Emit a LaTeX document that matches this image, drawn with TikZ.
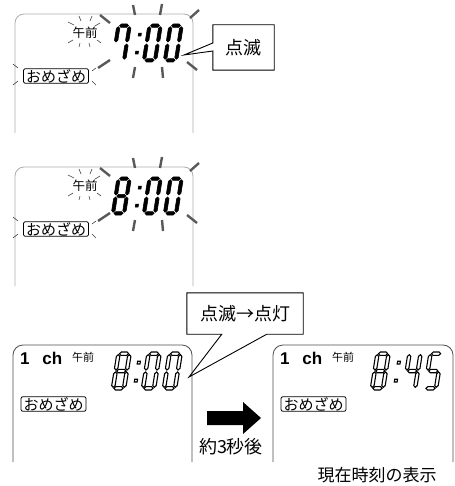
\documentclass[tikz,border=0pt]{standalone}
\usepackage{fontspec}
\setmainfont{Liberation Sans}
\newfontfamily\jp{Noto Sans CJK JP}
\usetikzlibrary{calc}
\tikzset{
  panelline/.style={draw=gray!65, line width=0.8pt, rounded corners=9pt},
  panellinec/.style={draw=black!70, line width=0.8pt, rounded corners=10pt},
  ray/.style={draw=black!65, line width=2.4pt},
  thinray/.style={draw=black!75, line width=0.6pt},
  biglabel/.style={font=\jp\fontsize{18}{18}\selectfont, inner sep=0pt},
  caption/.style={font=\jp\fontsize{17}{17}\selectfont, inner sep=0pt},
  amlabel/.style={font=\jp\fontsize{12.5}{12.5}\selectfont, inner sep=0pt},
  amsmall/.style={font=\jp\fontsize{11}{11}\selectfont, inner sep=0pt},
  chlabel/.style={font=\bfseries\fontsize{17}{17}\selectfont, inner sep=0pt},
  omebox/.style={draw, rounded corners=2pt, line width=0.8pt, font=\jp\fontsize{15}{15}\selectfont, inner xsep=2.5pt, inner ysep=0.5pt},
  calloutline/.style={draw=black, line width=0.9pt},
  segshape/.style={fill=black, draw=black, line width=0.6pt},
  segoutline/.style={segshape/.style={fill=white, draw=black, line width=1.1pt}},
}
\def\dw{14.5}
\def\dh{38}
\def\segh{1.7}
\newcommand\hseg[3]{\path[segshape] ({#2},{#1}) -- ({#2+\segh},{#1+\segh}) -- ({#3-\segh},{#1+\segh}) -- ({#3},{#1}) -- ({#3-\segh},{#1-\segh}) -- ({#2+\segh},{#1-\segh}) -- cycle;}
\newcommand\vseg[3]{\path[segshape] ({#1},{#2}) -- ({#1+\segh},{#2+\segh}) -- ({#1+\segh},{#3-\segh}) -- ({#1},{#3}) -- ({#1-\segh},{#3-\segh}) -- ({#1-\segh},{#2+\segh}) -- cycle;}
\newcommand\segA{\hseg{\dh-\segh}{2.7}{\dw-2.7}}
\newcommand\segD{\hseg{\segh}{2.7}{\dw-2.7}}
\newcommand\segG{\hseg{\dh/2}{2.7}{\dw-2.7}}
\newcommand\segF{\vseg{\segh}{\dh/2+1}{\dh-2.7}}
\newcommand\segE{\vseg{\segh}{2.7}{\dh/2-1}}
\newcommand\segB{\vseg{\dw-\segh}{\dh/2+1}{\dh-2.7}}
\newcommand\segC{\vseg{\dw-\segh}{2.7}{\dh/2-1}}
\newcommand\colondots{\path[segshape] (0,8) rectangle (2.8,10.8); \path[segshape] (0,26) rectangle (2.8,28.8);}
\newcommand\digit[3]{\begin{scope}[shift={(#1,#2)}, xslant=0.16, yscale=-1]#3\end{scope}}
\newcommand\dEight{\segA\segB\segC\segD\segE\segF\segG}
\newcommand\dZero{\segA\segB\segC\segD\segE\segF}
\newcommand\dSeven{\segA\segB\segC\segF}
\newcommand\dFour{\segB\segC\segF\segG}
\newcommand\dFive{\segA\segC\segD\segF\segG}
\newcommand\blinkrays{%
  \draw[ray] (100,15) -- (110,23);
  \draw[ray] (133,5) -- (135,15);
  \draw[ray] (162,4) -- (160,15);
  \draw[ray] (199,10) -- (190,18);
  \draw[ray] (110,60) -- (98,68);
  \draw[ray] (135,67) -- (133,78);
  \draw[ray] (162,67) -- (163,78);
  \draw[ray] (187,62) -- (197,70);
  \draw[thinray] (68,22) -- (74,25);
  \draw[thinray] (79,16) -- (81,21);
  \draw[thinray] (92,16) -- (90,21);
  \draw[thinray] (100,23) -- (95,26);
  \draw[thinray] (68,43) -- (73,40);
  \draw[thinray] (79,47) -- (80,43);
  \draw[thinray] (90,47) -- (89,43);
  \draw[thinray] (101,43) -- (97,40);
  \draw[thinray] (13,64) -- (18,68);
  \draw[thinray] (18,81) -- (13,85);
  \draw[thinray] (92,71) -- (96,68);
  \draw[thinray] (92,81) -- (96,85);
}
\begin{document}
\begin{tikzpicture}[x=1pt,y=-1pt]
\useasboundingbox (0,0) rectangle (454,486);
% ---------- panel 1 ----------
\draw[panelline] (15,133) -- (15,14) -- (193,14) -- (193,133);
\blinkrays
\node[amlabel] (am1) at (85,33) {午前};
\node[omebox] (ome1) at (56,76) {おめざめ};
\digit{111}{62}{\dSeven}
\digit{134}{62}{\colondots}
\digit{142}{62}{\dZero}
\digit{163}{62}{\dZero}
\node[biglabel, minimum width=61pt, minimum height=45pt] (c1) at (243.5,47.5) {点滅};
\coordinate (tip1) at (184,55);
\draw[calloutline] (c1.south west) -- ($(c1.west)+(0,3.5)$) -- (tip1) -- ($(c1.west)+(0,-4.5)$) -- (c1.north west) -- (c1.north east) -- (c1.south east) -- cycle;
% ---------- panel 2 ----------
\draw[panelline] (15,286) -- (15,167) -- (193,167) -- (193,286);
\begin{scope}[yshift=-153pt]\blinkrays\end{scope}
\node[amlabel] (am2) at (85,186) {午前};
\node[omebox] (ome2) at (56,229) {おめざめ};
\digit{111}{215}{\dEight}
\digit{134}{215}{\colondots}
\digit{142}{215}{\dZero}
\digit{163}{215}{\dZero}
% ---------- panel 3 left ----------
\draw[panellinec] (13,462) -- (13,345) -- (192,345) -- (192,462);
\node[chlabel, anchor=west] (ch1) at (20,358) {1\hspace{0.75em}ch};
\node[amsmall] (am3) at (83,357) {午前};
\node[omebox] (ome3) at (53.5,404) {おめざめ};
\begin{scope}[segoutline]
\digit{111}{390}{\dEight}
\digit{133}{390}{\colondots}
\digit{141}{390}{\dZero}
\digit{162}{390}{\dZero}
\end{scope}
\node[biglabel, minimum width=116pt, minimum height=41pt] (c2) at (245,313.5) {点滅→点灯};
\coordinate (tip2) at (189,377);
\coordinate (base1) at ($(c2.south west)+(35,0)$);
\coordinate (base2) at ($(c2.south west)+(80,0)$);
\draw[calloutline] (base1) -- (c2.south west) -- (c2.north west) -- (c2.north east) -- (c2.south east) -- (base2) -- (tip2) -- cycle;
% ---------- arrow ----------
\fill[black] (207,411) -- (243,411) -- (243,402) -- (261,418) -- (243,434) -- (243,425) -- (207,425) -- cycle;
\node[biglabel] (sec) at (231,447) {約3秒後};
% ---------- panel 3 right ----------
\draw[panellinec] (273,462) -- (273,345) -- (453,345) -- (453,462);
\node[chlabel, anchor=west] (ch2) at (280,358) {1\hspace{0.75em}ch};
\node[amsmall] (am4) at (343,357) {午前};
\node[omebox] (ome4) at (313.5,404) {おめざめ};
\begin{scope}[segoutline]
\digit{370}{390}{\dEight}
\digit{393}{390}{\colondots}
\digit{402}{390}{\dFour}
\digit{423}{390}{\dFive}
\end{scope}
\node[caption] (cap) at (377,475) {現在時刻の表示};
\end{tikzpicture}
\end{document}
